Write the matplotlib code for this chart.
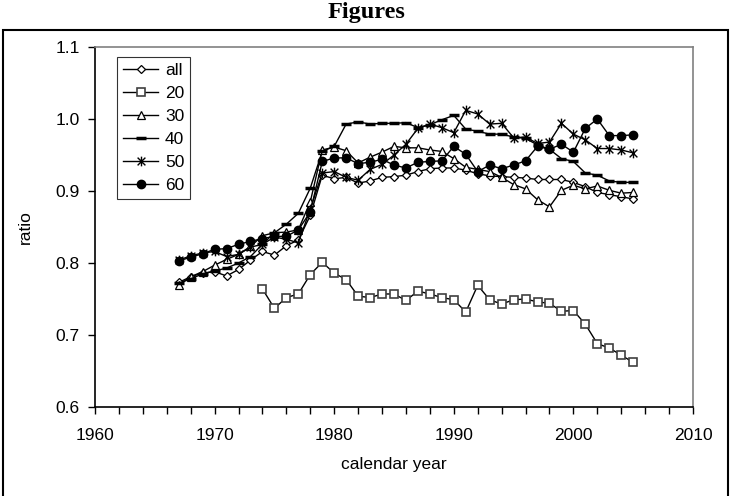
import matplotlib
matplotlib.use("Agg")
import matplotlib.pyplot as plt
from matplotlib.path import Path
from matplotlib.patches import Rectangle
from matplotlib.ticker import MultipleLocator, FormatStrFormatter

# years
years = list(range(1967, 2006))
years_20 = list(range(1974, 2006))

# ratio values
r_all = [0.773, 0.781, 0.786, 0.788, 0.782, 0.791, 0.804, 0.816, 0.811, 0.824,
         0.832, 0.866, 0.922, 0.917, 0.919, 0.911, 0.914, 0.919, 0.920, 0.922,
         0.927, 0.931, 0.932, 0.932, 0.929, 0.924, 0.921, 0.920, 0.919, 0.918,
         0.916, 0.916, 0.916, 0.912, 0.906, 0.898, 0.895, 0.892, 0.889]
r_20 = [0.764, 0.737, 0.752, 0.757, 0.784, 0.801, 0.786, 0.777, 0.754, 0.752,
        0.757, 0.757, 0.748, 0.761, 0.757, 0.752, 0.749, 0.732, 0.769, 0.749,
        0.743, 0.749, 0.750, 0.746, 0.744, 0.733, 0.734, 0.715, 0.688, 0.682,
        0.672, 0.662]
r_30 = [0.769, 0.781, 0.788, 0.797, 0.805, 0.812, 0.823, 0.838, 0.842, 0.843,
        0.846, 0.885, 0.957, 0.961, 0.956, 0.939, 0.947, 0.954, 0.962, 0.960,
        0.960, 0.957, 0.955, 0.945, 0.933, 0.930, 0.927, 0.919, 0.909, 0.903,
        0.888, 0.878, 0.901, 0.908, 0.903, 0.907, 0.901, 0.897, 0.898]
r_40 = [0.772, 0.778, 0.785, 0.789, 0.793, 0.800, 0.809, 0.826, 0.842, 0.854,
        0.869, 0.904, 0.955, 0.962, 0.993, 0.996, 0.993, 0.994, 0.994, 0.995,
        0.988, 0.992, 0.999, 1.005, 0.986, 0.983, 0.979, 0.979, 0.975, 0.973,
        0.964, 0.958, 0.945, 0.941, 0.925, 0.922, 0.914, 0.912, 0.912]
r_50 = [0.804, 0.810, 0.814, 0.816, 0.809, 0.812, 0.822, 0.826, 0.836, 0.833,
        0.828, 0.875, 0.925, 0.927, 0.919, 0.915, 0.930, 0.937, 0.950, 0.965,
        0.987, 0.993, 0.988, 0.981, 1.012, 1.007, 0.993, 0.994, 0.974, 0.975,
        0.966, 0.968, 0.994, 0.979, 0.971, 0.959, 0.959, 0.957, 0.953]
r_60 = [0.803, 0.808, 0.813, 0.819, 0.820, 0.826, 0.830, 0.834, 0.837, 0.837,
        0.846, 0.871, 0.941, 0.946, 0.946, 0.938, 0.940, 0.944, 0.936, 0.932,
        0.940, 0.941, 0.942, 0.962, 0.951, 0.927, 0.936, 0.931, 0.936, 0.942,
        0.962, 0.958, 0.965, 0.954, 0.987, 1.000, 0.977, 0.977, 0.978]

# asterisk marker like the Excel one (x plus vertical bar)
star = Path([(0, -1), (0, 1), (-0.8, -0.8), (0.8, 0.8), (-0.8, 0.8), (0.8, -0.8)],
            [Path.MOVETO, Path.LINETO, Path.MOVETO, Path.LINETO, Path.MOVETO, Path.LINETO])

plt.rcParams['font.family'] = ['Liberation Sans', 'DejaVu Sans']

fig = plt.figure(figsize=(7.32, 4.96), dpi=100)
ax = fig.add_axes([0.1298, 0.1794, 0.8169, 0.7258])

ax.plot(years, r_all, color='black', lw=1, marker='D', ms=4.5, mfc='white', mec='black', mew=0.9, label='all')
ax.plot(years_20, r_20, color='black', lw=1, marker='s', ms=5.5, mfc='white', mec='#404040', mew=1.2, label='20')
ax.plot(years, r_30, color='black', lw=1, marker='^', ms=6, mfc='white', mec='black', mew=0.9, label='30')
ax.plot(years, r_40, color='black', lw=1, marker='_', ms=7, mec='black', mew=2.5, label='40')
ax.plot(years, r_50, color='black', lw=1, marker=star, ms=7, mfc='none', mec='black', mew=1, label='50')
ax.plot(years, r_60, color='black', lw=1, marker='o', ms=6, mfc='black', mec='black', label='60')

ax.set_xlim(1960, 2010)
ax.set_ylim(0.6, 1.1)
ax.xaxis.set_major_locator(MultipleLocator(10))
ax.xaxis.set_minor_locator(MultipleLocator(2))
ax.yaxis.set_major_locator(MultipleLocator(0.1))
ax.yaxis.set_major_formatter(FormatStrFormatter('%.1f'))
ax.tick_params(axis='both', direction='out', length=5, width=1, labelsize=12.5, color='black')
ax.tick_params(axis='x', which='minor', direction='out', length=5, width=1)
ax.tick_params(axis='x', pad=10)
ax.tick_params(axis='y', pad=6)

for s in ['left', 'bottom']:
    ax.spines[s].set_color('black')
    ax.spines[s].set_linewidth(1.2)
for s in ['top', 'right']:
    ax.spines[s].set_color('#808080')
    ax.spines[s].set_linewidth(1.2)

ax.set_xlabel('calendar year', fontsize=12.5, labelpad=10)
ax.set_ylabel('ratio', fontsize=12.5, labelpad=16)

leg = ax.legend(loc='upper left', bbox_to_anchor=(0.037, 0.972), borderaxespad=0,
                fontsize=12.5, frameon=True, fancybox=False, edgecolor='black',
                handlelength=2.0, handletextpad=0.4, labelspacing=0.45, borderpad=0.35)
leg.get_frame().set_linewidth(0.8)

# outer frame and heading
fig.patches.append(Rectangle((0.004, -0.01), 0.99, 0.9495, transform=fig.transFigure,
                             fill=False, edgecolor='black', linewidth=1.5))
fig.text(0.5, 0.974, 'Figures', ha='center', va='center', fontsize=17.5,
         fontweight='bold', family='Liberation Serif')

fig.savefig('out.png', dpi=100)
